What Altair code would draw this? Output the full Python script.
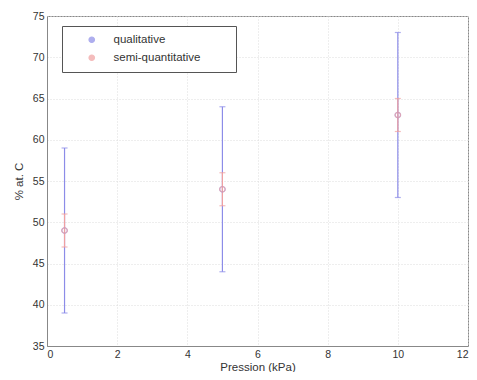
import altair as alt
import pandas as pd

pressure = [0.5, 5, 10]
series = ["qualitative", "semi-quantitative"]
qual_mean = [49, 54, 63]
qual_low = [39, 44, 53]
qual_high = [59, 64, 73]
semi_mean = [49, 54, 63]
semi_low = [47, 52, 61]
semi_high = [51, 56, 65]
colors = ["#8c8ce8", "#f0a0a0"]

rows = []
for i, p in enumerate(pressure):
    rows.append({"p": p, "s": series[0], "m": qual_mean[i], "lo": qual_low[i], "hi": qual_high[i], "o": 0})
for i, p in enumerate(pressure):
    rows.append({"p": p, "s": series[1], "m": semi_mean[i], "lo": semi_low[i], "hi": semi_high[i], "o": 1})
df = pd.DataFrame(rows)

FONT = "Liberation Sans"
BLANK = "\u2800" * 3
x = alt.X("p:Q", title="Pression (kPa)", scale=alt.Scale(domain=[0, 12], nice=False),
          axis=alt.Axis(values=[0, 2, 4, 6, 8, 10, 12], titlePadding=2))
yax = alt.Axis(values=[35, 40, 45, 50, 55, 60, 65, 70, 75], titlePadding=8)
yscale = alt.Scale(domain=[35, 75], nice=False, zero=False)
color = alt.Color("s:N", scale=alt.Scale(domain=series, range=colors),
                  legend=alt.Legend(title=None, orient="none", legendX=15, legendY=10,
                                    direction="vertical", symbolType="circle",
                                    symbolFillColor="white",
                                    symbolStrokeWidth=1.2, symbolSize=30,
                                    symbolOffset=16, labelOffset=16,
                                    padding=8, rowPadding=5,
                                    strokeColor="#555", fillColor="white",
                                    labelFont=FONT, labelFontSize=11.5, labelColor="#333",
                                    labelExpr="datum.label + '" + BLANK + "'"))

base = alt.Chart(df)
rules = base.mark_rule(strokeWidth=1.2).encode(
    x=x, y=alt.Y("lo:Q", title="% at. C", scale=yscale, axis=yax), y2="hi:Q", color=color,
    order=alt.Order("o:Q"))
caps_lo = base.mark_tick(orient="horizontal", size=6, thickness=1.2).encode(
    x="p:Q", y="lo:Q", color=color)
caps_hi = base.mark_tick(orient="horizontal", size=6, thickness=1.2).encode(
    x="p:Q", y="hi:Q", color=color)
pts = base.mark_point(shape="circle", filled=False, size=30, strokeWidth=1.2).encode(
    x="p:Q", y="m:Q", color=color)

chart = alt.layer(rules, caps_lo, caps_hi, pts).properties(
    width=421, height=330,
    autosize=alt.AutoSizeParams(type="none"),
    padding={"left": 39, "top": 8, "right": 1, "bottom": 26},
).configure_view(stroke="#888", strokeWidth=1).configure_axis(
    labelFont=FONT, titleFont=FONT, labelFontSize=10.5, titleFontSize=11.5,
    labelColor="#333", titleColor="#333", titleFontWeight="normal",
    domainColor="#888", tickColor="#888", ticks=False, labelPadding=3,
    gridColor="#dcdcdc", gridDash=[1, 2],
)

chart.save("out.html", embed_options={"renderer": "svg", "actions": False})
